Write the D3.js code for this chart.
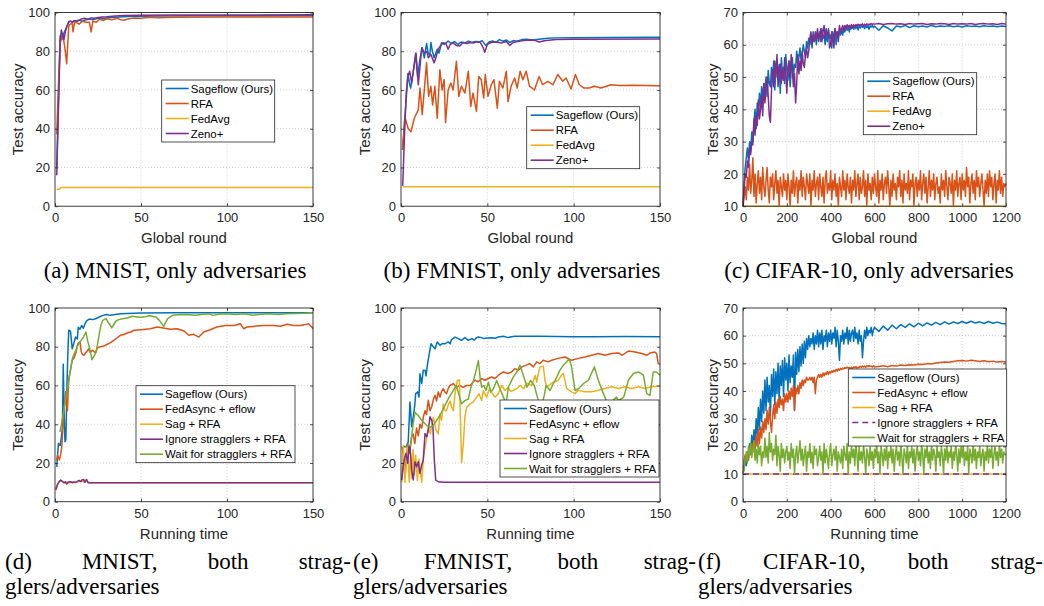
<!DOCTYPE html>
<html>
<head>
<meta charset="utf-8">
<script src="https://cdn.jsdelivr.net/npm/d3@7"></script>
<style>
  body { margin: 0; background: #fff; }
  svg { display: block; }
  .axis text { font-family: "Liberation Sans", Arial, sans-serif; font-size: 13px; fill: #262626; }
  .axis line { stroke: #262626; stroke-width: 0.8; }
  .axisLabel { font-family: "Liberation Sans", Arial, sans-serif; font-size: 15px; fill: #262626; }
  .legendText { font-family: "Liberation Sans", Arial, sans-serif; font-size: 11.4px; fill: #000; }
  .caption { font-family: "Liberation Serif", "Times New Roman", serif; font-size: 23px; fill: #000; }
</style>
</head>
<body>
<div id="chart"></div>
<script>
var svgWidth = 1044;
var svgHeight = 606;

var blue = "#0072BD", orange = "#D95319", yellow = "#EDB120", purple = "#7E2F8E", green = "#77AC30";

// ---- (a) MNIST, only adversaries : [round, accuracy]
var aSageflow = [[1,20],[2,55],[3,88],[4,86],[5,89],[6,91],[7,93],[8,95],[9,95.5],[10,95],[12,95.8],[14,96],[16,95.5],[18,96.3],[20,96.6],[22,96.2],[25,97],[28,96.8],[30,97.2],[35,97.5],[40,97.8],[45,98],[50,98.1],[60,98.2],[80,98.3],[100,98.3],[150,98.4]];
var aRfa = [[1,37],[2,62],[3,84],[4,88],[5,86],[6,80],[6.8,73.5],[7.5,85],[8,93],[9,94],[10,94.5],[10.5,90],[11.3,94.5],[12,95],[14,94],[16,95.5],[18,95],[20,95],[21,90],[22,95.5],[24,95],[26,96.5],[28,95.8],[30,96.8],[33,96.2],[36,97],[38,96.3],[40,96],[43,96.8],[46,97.2],[50,97],[55,97.5],[60,97.3],[70,97.6],[100,97.7],[150,97.7]];
var aFedAvg = [[1,8.8],[2.5,8.8],[3.5,9.7],[150,9.7]];
var aZeno = [[1,16],[2,50],[3,85],[3.7,91],[4.5,88],[5.2,86],[6,90],[7,93],[8,95.3],[9,95.5],[10,95],[11,95.8],[13,95.5],[15,96.5],[17,97],[19,96.5],[21,97.2],[23,97],[26,97.6],[30,97.8],[35,98.2],[40,98.4],[50,98.6],[70,98.7],[150,98.8]];

// ---- (b) FMNIST, only adversaries
var bSageflow = [[1,29],[2,43],[3,55],[4,68.5],[5,63],[5.6,61],[6.5,66],[7.5,72],[8.5,79],[9.6,67],[11,76],[12.3,81.8],[13.5,76.6],[14.8,84],[15.7,79],[16.7,78],[17.3,84.5],[18.2,80],[19.2,76.6],[21,81],[22,79],[23.5,84.4],[25,83.5],[27.3,85.3],[29,84],[31,85],[33,83.5],[35,84.8],[37,84.2],[39,85.2],[41,84.5],[43,85],[45,84.6],[47,85.5],[49,83],[51,84.8],[53,85.3],[55,84.6],[57,86],[59,85.2],[61,85.8],[63,84.5],[65,85.5],[67,85.2],[70,86],[73,86.2],[76,85.8],[80,86.2],[85,86.7],[90,86.9],[100,87],[120,87.1],[150,87.2]];
var bRfa = [[0.8,29],[2.3,46],[4.2,40],[5.8,38.5],[7.7,45.4],[10,49.7],[11,61],[12.3,47.3],[14.8,74],[16,56.7],[17.3,61.9],[18.3,52.3],[19.6,61.9],[21,45.4],[22.5,70.5],[23.8,60],[25,65.3],[25.8,43.2],[27.3,60],[28.8,63.6],[30.2,60],[32.1,74.8],[33.5,56.7],[35,62],[37,58.4],[39,69.7],[40.4,51.5],[41.7,58.4],[43.7,48.9],[45,67],[46.5,65.3],[47.9,55.8],[48.8,68],[50.4,56.7],[52.3,62.7],[53.8,65.3],[55.8,50.6],[57,64.5],[59,61],[61,69.7],[62,54],[63.8,62],[65.8,66.2],[67.3,61],[69,69.7],[70.6,65.3],[72.5,69.7],[74.4,62],[77.3,60],[80,67],[82,62.7],[85,64.5],[88,62.7],[90.8,68],[93.7,64.5],[95.6,66.2],[98.5,60.5],[101,68],[103.3,62.7],[106,61],[109,61],[112,61.9],[115.8,61],[121.5,62.7],[127,62.3],[135,62.5],[148.5,62.2],[150,62.2]];
var bFedAvg = [[1,10],[150,10]];
var bZeno = [[1,10.5],[2,36],[3,58],[4,67],[5,69.7],[6.2,63.6],[7,68.8],[8.7,79],[10,62.7],[11,72],[12,81.8],[13,80],[13.8,79],[15,80],[15.8,76.6],[17.3,78.3],[19.2,74],[20.3,77],[21.5,81],[23,83],[24.4,84.4],[26,84],[27.3,81],[28.5,83.5],[30,84.4],[32,83],[34,82.7],[36,84.5],[38,84],[40,84.5],[42,84.2],[44,85],[46,84.5],[47.5,82],[48.5,79.5],[50,83.5],[52,84.5],[55,84.8],[58,84.2],[61,85],[63,83],[65,84.5],[68,85.2],[71,85.5],[75,85.8],[78,85.5],[80,84.8],[83,85.4],[87,85.8],[90,86],[100,86.2],[150,86.3]];

// ---- (c) CIFAR-10, only adversaries
// early parts: one value every 5 rounds (0..595); late parts: every 20 rounds (600..1200)
var cSageflowEarly = [10,17,22,25,28,24,30,27,33,30,
  36,40,34,42,38,45,41,47,43,48,
  46,50,44,52,48,47,53,49,55,46,
  52,55,49,54,45,56,51,53,48,57,
  52,49,55,47,52,56,50,54,53,58,
  54,56,59,55,57,60,58,56,61,59,
  62,60,63,59,64,61,63,60,64,62,
  64,61,65,62,63,60,64,61,65,62,
  63,59,64,61,65,60,64,62,65,63,
  65,63,65.5,64,65.8,64.5,65.6,64,65.8,65,
  65.5,64.8,65.8,65,66,64.6,65.8,65.2,66,65.4,
  65.8,65,66,65.3,65.9,64.8,65.8,65.5,66,65.3];
var cSageflowLate = [65.8,64.5,65.9,65.2,64.3,65.8,65.5,66,65.3,65.9,65.6,65.8,65.5,66,65.6,65.8,65.7,65.9,65.6,65.8,65.5,65.9,65.7,65.8,65.6,65.9,65.7,65.8,65.6,65.8,65.7];
// RFA: every 5 rounds, 0..1200
var cRfa = [10,13,16,12,19,15,23,14,18,25,
  13,20,11,17,21,14,19,12,22,16,
  13,18,22,15,11,19,16,20,12,17,
  21,14,18,10,19,16,13,20,15,18,
  12,20,16,10,18,14,21,13,17,19,
  11,18,15,21,13,19,16,12,20,17,
  14,20,10,18,15,21,13,17,19,12,
  20,16,13,19,11,18,21,14,17,15,
  21,12,18,15,20,13,17,10,19,16,
  13,21,15,18,12,20,16,14,19,11,
  18,15,21,13,17,20,12,19,14,16,
  21,13,18,10,20,15,17,12,19,14,
  20,16,13,21,11,18,15,20,12,17,
  19,14,21,16,10,18,13,20,15,17,
  12,19,16,21,13,18,11,20,15,17,
  14,21,12,18,16,20,10,17,19,13,
  18,15,21,12,17,20,14,19,11,16,
  21,13,18,15,20,12,17,19,14,16,
  11,20,15,18,13,21,16,12,19,17,
  14,20,10,18,15,21,13,17,19,12,
  20,15,18,13,22,16,19,11,17,20,
  14,18,12,21,16,19,13,17,20,15,
  10,18,14,20,13,21,16,19,12,17,
  20,11,18,15,21,14,19,13,17,16,
  17];
var cFedAvg = [[0,10],[1200,10]];
var cZenoEarly = [10,15,20,19,24,22,28,26,30,29,
  37,32,38,35,43,37,40,44,38,48,
  42,47,50,44,38,36,46,52,47,55,
  50,57,47,53,54,48,52,49,56,51,
  45,53,55,50,57,52,47,51,42,48,
  57,51,55,52,58,54,53,57,59,56,
  58,62,64,60,63,61,64,62,65,61,
  63,65,61,64,66,62,65,63,64,59,
  60,64,62,59,65,63,64,61,66,64,
  65,66,64,66,65,66.2,65.5,66,64.8,66.3,
  65.3,66.2,65.5,66.3,65.8,66.4,65.9,66.3,66,66.5,
  65.8,66.4,66,66.5,66.1,66.4,66.2,66.6,66.3,66.5];
var cZenoLate = [66.4,66.6,66.3,66.5,66.6,66.4,66.5,66.3,66.6,66.4,66.5,66.6,66.3,66.5,66.4,66.6,66.5,66.3,66.6,66.4,66.5,66.4,66.6,66.3,66.5,66.6,66.4,66.5,66.3,66.6,66.4];

// ---- (d) MNIST, both stragglers/adversaries : [time, accuracy]
var dSageflow = [[1,18],[2,30],[3,29],[3.5,32],[4.3,38],[4.8,71],[5.3,45],[5.8,31],[6.3,32],[7,62],[7.6,80],[8,88.5],[9,88],[10,79],[11,82],[12,85],[13,84],[13.5,90],[14.5,89],[15.5,91],[16.5,89.5],[17.5,92],[18.5,93.5],[20,94.3],[22,94],[24,94.6],[26,95.5],[28,96.2],[30,96.6],[32,96.2],[35,96.6],[38,97],[42,97.2],[50,97.4],[70,97.5],[100,97.5],[150,97.5]];
var dFedAsync = [[1,21.5],[1.5,24],[2.5,21.5],[3.2,24],[3.9,28],[4.6,38],[5.2,47],[5.8,52],[6.2,56.7],[6.8,50],[7.2,47],[8,63.6],[9,68],[10,73],[11,74],[12,76.5],[13.3,81.6],[14.5,82.5],[15.3,77.3],[16,76],[17,75.6],[17.8,77],[18.4,77.3],[19.7,79],[20.5,77],[21.7,78.2],[23.6,76.8],[24.6,79.5],[26.5,80],[28,80.2],[30.4,81.3],[32,82],[34.2,83.3],[36,84.5],[38,85.9],[40,86.3],[42,87.1],[44,87.6],[46,88.5],[50,88.8],[55.5,89.3],[59.4,90.2],[63,89.7],[67,89],[71,89.3],[75,88.1],[77.8,85.9],[80.7,86.4],[83.6,85],[86.5,87.6],[90.3,88.8],[94,90.2],[99,91],[104,91],[107.7,91.9],[109.7,89.3],[111.6,90.2],[115.5,90.5],[121,91],[127,91],[131,90.6],[135,91.6],[139,91],[142.5,91],[145,91.3],[147.4,91.9],[149.3,90.2],[150,89.3]];
var dSag = [[0.5,7],[1.5,9],[2.5,10.5],[3.5,10.8],[4.5,10.2],[5.5,9.6],[6.5,10],[8,9.7],[10,10],[12,9.8],[14,10.5],[15.5,11],[16.5,10.2],[17.5,11.2],[18.5,10.8],[19.5,9.8],[150,9.8]];
var dIgnore = [[0.5,6],[1.5,9],[2.5,10.5],[3.3,11.2],[4.2,10.5],[5.2,9.8],[6,10.3],[6.8,9.1],[7.6,10.2],[9,10.3],[10,9.8],[11,10.2],[12.2,10.1],[14,11],[15,10.3],[15.8,11.4],[16.5,11.5],[17.4,10],[18.4,11.5],[19.2,9.8],[150,9.8]];
var dWait = [[2.9,36],[4.5,43.6],[6,52],[7.4,59],[9,68],[10.3,74.6],[12,78],[13.2,80.7],[15,83],[16.5,85],[18,87.6],[19,83],[20,79.8],[21.5,73.3],[22.9,75.5],[24,78],[24.8,81.6],[26,88],[26.7,91],[27.7,93.6],[29.7,94.5],[31,92.5],[33,89.8],[35.5,93.3],[37,94],[39.3,94.5],[42,94.8],[45,95.7],[48,95.4],[50,95.2],[53,95.6],[55,96],[58.7,95.3],[60.7,93.6],[63.2,90.5],[65.5,94.5],[68.4,96.2],[72,96.5],[76,96.7],[82,96.2],[86,96.8],[89.7,97],[91.7,96.2],[95,96.8],[99,97],[105,96.6],[110,97],[115,96.3],[120,96.8],[124.6,97],[130,96.7],[134,97],[140,97.2],[145,97.3],[150,97.6]];

// ---- (e) FMNIST, both stragglers/adversaries
var eSageflow = [[1,28],[2,28.5],[3,28.4],[4.2,31],[5.2,51.5],[6.2,38.7],[7.1,43.8],[8,50],[8.5,55.8],[9.7,56.7],[10.4,54],[11,66],[12,61],[12.9,67.9],[13.9,67.9],[14.5,65],[15.4,71.3],[16.2,75.6],[17.4,81.6],[18.7,79.9],[19.7,79],[21,82.5],[22.6,80.8],[23.9,81.6],[25.5,81.6],[27.4,82.5],[28.5,81.5],[29.3,83.7],[31.3,85],[33.2,84.2],[35,83.3],[37,84.7],[39,83.3],[41,84.2],[42.5,83.5],[43.8,84.7],[44.8,85],[46.7,84.7],[48,84.2],[50,84.5],[52.5,84.7],[54.5,84.4],[56.4,85],[59.3,85.4],[62,84.7],[64,85.2],[66,85.4],[70,85.4],[80,85.4],[90,85.3],[100,85.1],[110,85.2],[130,85.3],[150,85.2]];
var eFedAsync = [[0.8,28.4],[1.6,20],[2.3,12],[3,22],[4,30],[5,25],[6,33],[7,35],[8,30],[9,38],[10,34],[11,40],[12,38],[13,44],[13.9,47],[14.8,45],[15.8,52.4],[16.8,47],[17.8,49],[18.8,53],[19.7,55],[20.6,52],[21.6,56.7],[22.6,54],[23.5,57],[24.5,58.4],[25.5,56.5],[26.4,55.8],[27.4,58.5],[28.4,60],[30.3,61],[32,59],[34,60],[36,59],[38,60],[40,60],[42.8,62.7],[44.8,61.9],[46.7,63.6],[48.6,62.7],[50.6,63.6],[52.5,64.4],[54.4,63.6],[56.4,65.3],[59.3,67],[62,66.2],[64,67],[66,68.7],[68,67.9],[70,69.6],[72.6,70.5],[74.5,71.3],[76.6,69.6],[78.6,72.2],[80.5,71.3],[82.4,73],[85.3,72.2],[87.3,73],[91,74],[95,74.7],[98.8,73],[102.7,74],[106.6,74.7],[110.4,75.6],[114.3,76.5],[118,75.6],[122,76.5],[126,76.8],[128,75.6],[131.7,77.8],[135.6,77.3],[139.5,76.5],[142.5,75.6],[144.4,76.8],[147,77.3],[148,76.5],[149,71.3],[150,71]];
var eSag = [[0.5,10],[1.4,29],[2.3,10],[3.2,22],[3.7,28],[4.8,10],[5.5,25],[6.2,12],[7,27],[7.8,14],[8.5,24],[9.5,11],[10.5,22],[11.3,15],[12,10],[13,23],[14.9,33],[15.8,38.4],[17,35],[18.7,43.6],[20.3,37],[21.6,35],[22.5,45.3],[23.5,42],[24.5,50.5],[25.5,47],[26.4,47],[27.4,50],[28.4,52],[29.3,49],[30.3,47],[31.3,55.7],[32.6,62.6],[33.8,63],[34.5,40],[35.1,20.1],[36.1,29.8],[37,43.6],[38,48.8],[40,50.5],[41.9,51.4],[43.8,54],[45.2,55.7],[46.7,52.2],[47.7,57.4],[49.6,54],[51.2,58.3],[52.8,56],[54.4,54],[56.4,55.7],[58.3,60],[60.2,57.4],[62,59],[63.5,57],[65,57.4],[67,58.3],[69,60],[71,58.3],[72.8,61.2],[75.7,60],[77.7,65.2],[78.6,61.7],[79.5,66],[80.5,69.6],[82.4,70],[83.4,62.7],[84.4,59.3],[87,61],[91,62.7],[93,65.3],[94,66.2],[96,58.4],[98.8,56.7],[100.8,55.8],[102.7,57.5],[106.6,56.7],[110.4,56.7],[114.3,57.5],[118,58.4],[122,59.3],[126,58.4],[129.7,59.3],[133.6,58.4],[137.5,59.3],[141.3,58.4],[145,59.3],[150,59.6]];
var eIgnore = [[0.4,11.2],[1.2,18],[1.9,21.5],[2.9,25],[3.9,19.8],[4.6,28.4],[5.2,28.4],[6.2,16.3],[7.1,11.2],[8.1,20.6],[9.1,18],[10,20.6],[11,14.6],[12,18.9],[12.9,21.5],[13.9,35.2],[14.9,33.5],[15.8,36.9],[16.8,43.8],[17.8,42],[18.5,38.7],[19.3,21.5],[20.1,11.2],[21.6,10.3],[25,10],[150,10]];
var eWait = [[2.3,28],[4.2,29],[5.6,29],[7,40],[8.1,46.2],[10,44.5],[12,42],[14.9,39.3],[16.8,38.4],[18.7,39.3],[20.6,42],[22.5,44.5],[24.5,48],[26.4,51.4],[28.4,54.8],[30.3,57.4],[32,60],[34,54],[35,50.5],[37,52.2],[39,53],[40.5,59.1],[42,62.6],[43.5,67.8],[44.8,72.9],[45.8,64.3],[46.7,59.1],[48,60],[49.2,57.4],[50.6,61.7],[52,56.6],[53.5,58.3],[55.4,62.6],[57.3,58.3],[59.3,54],[60.8,50.5],[62.2,59.1],[65,64.3],[67,66.9],[68.9,70.4],[71.2,64.3],[73,59.1],[75,62.6],[77.2,60],[79,54],[81,48],[83,55],[84,60],[86.3,57.4],[88.2,60.9],[90.2,64.3],[92,67.8],[94,70.4],[97.5,73.8],[98.8,69.5],[100.8,57.4],[102.7,58.3],[105.6,60.9],[108.5,62.7],[112,69.6],[114.3,62.7],[117.2,55.8],[120,50],[124.8,54],[126,52.2],[129,54],[131.7,62.7],[134.6,66.2],[137.5,67],[140.4,65.3],[142.3,55.8],[144.2,54.9],[146.1,67],[148,67],[150,65.3]];

// ---- (f) CIFAR-10, both stragglers/adversaries
var fSageflowEarly = [10,12,15,13,18,16,21,18,24,20,
  26,21,30,24,34,26,37,29,40,32,
  44,33,45,36,42,31,46,38,48,35,
  47,39,50,36,49,42,51,38,52,44,
  50,40,53,43,49,45,53,33,54,46,
  55,47,56,49,57,50,58,52,59,55,
  60,56,59,57,61,55,60,57,62,56,
  61,57,62,55,60,58,62,56,61,58,
  62,57,61,59,63,56,62,58,51,60,
  58,62,57,61,59,63,57,62,58,61,
  62,58,63,59,61,57,62,58,60,52,
  58,62,59,63,60,62,61,63,60,62];
var fSageflowLate = [63,61.5,63.5,62,63.8,62.5,64,63,64.3,63.2,64.5,63.5,64.6,63.8,64.8,64,65,64.2,65,64.4,65.1,64.5,65.2,64.6,65,64.4,65.1,64.5,64.9,64.4,64.2];
var fFedAsyncEarly = [10,15,17,16,18,15,19,17,21,18,
  22,19,24,20,26,21,27,23,29,25,
  30,26,33,28,34,29,25,31,35,30,
  36,32,37,34,38,35,37,33,39,36,
  39,36,40,37,41,38,42,33,41,39,
  42,39,43,41,44,42,44,43,45,44,
  44,45,44,45,43,45,39,44,45,46,
  45,46,45,46.5,45.5,46.5,46,47,46,47,
  46.5,47.3,46.8,47.5,47,47.8,47.2,48,47.5,48.2,
  47.8,48.3,48,48.5,48.2,48.6,48.3,48.5,48.1,48.6,
  48.2,48.7,48.4,48.8,48.3,48.6,48.5,48.9,48.6,49,
  48.7,49,48.6,49.1,48.8,49.2,48.9,49,48.7,49.1];
var fFedAsyncLate = [48.7,48.9,49.1,48.8,49.2,49,49.4,49.2,49.5,49.4,49.7,49.6,49.9,49.8,50.1,50.3,50.5,50.4,50.7,50.9,51,50.8,51.1,50.9,50.7,50.9,50.6,50.8,50.5,50.7,50.5];
var fSag = [[0,10],[1200,10]];
var fIgnore = [[0,10],[1200,10]];
// Wait for stragglers: every 5 time units, 0..1200
var fWait = [10,12,15,18,14,20,17,21,16,19,
  22,15,19,14,21,17,20,13,18,16,
  23,16,20,14,25,18,21,15,19,17,
  24,13,20,17,11,21,16,19,14,18,
  20,15,18,12,21,16,19,10,17,20,
  14,18,22,15,19,13,17,20,11,18,
  16,21,14,18,12,20,17,19,13,16,
  20,15,18,10,21,14,19,16,12,18,
  21,13,17,19,15,20,11,18,16,14,
  19,12,20,17,15,21,10,18,14,20,
  16,19,13,21,17,11,20,15,18,14,
  21,16,10,19,17,13,20,15,18,12,
  19,16,21,14,18,10,20,17,13,19,
  15,21,12,18,16,20,14,19,11,17,
  20,15,18,13,21,16,10,19,17,14,
  21,12,18,16,20,14,19,11,17,20,
  15,18,13,21,17,10,19,16,20,14,
  18,12,21,15,19,17,11,20,16,18,
  13,20,17,10,19,15,21,14,18,16,
  20,12,18,15,21,17,11,19,14,20,
  16,21,13,18,15,20,10,19,17,14,
  21,15,19,12,18,16,20,13,17,19,
  11,18,15,21,14,19,16,20,12,17,
  20,15,18,13,21,16,19,14,18,17,
  17];

// tick labels
var ticks150 = [0, 50, 100, 150];
var ticks1200 = [0, 200, 400, 600, 800, 1000, 1200];
var ticks100 = [0, 20, 40, 60, 80, 100];
var ticks70 = [0, 10, 20, 30, 40, 50, 60, 70];
var ticks10to70 = [10, 20, 30, 40, 50, 60, 70];

var topCaptions = ["(a) MNIST, only adversaries", "(b) FMNIST, only adversaries", "(c) CIFAR-10, only adversaries"];
var bottomCaptions = [["(d)", "MNIST,", "both", "strag-"], ["(e)", "FMNIST,", "both", "strag-"], ["(f)", "CIFAR-10,", "both", "strag-"]];

var namesA = ["Sageflow (Ours)", "RFA", "FedAvg", "Zeno+"];
var namesB = ["Sageflow (Ours)", "FedAsync + eflow", "Sag + RFA", "Ignore stragglers + RFA", "Wait for stragglers + RFA"];

// turn evenly spaced values into [x, y] pairs
function stepped(vals, dx, x0) {
  return vals.map(function(v, i) { return [(x0 || 0) + i * dx, v]; });
}

var panels = [
  { left: 55, right: 313, top: 12.5, xDomain: [0, 150], yDomain: [0, 100], xTicks: ticks150, yTicks: ticks100,
    xLabel: "Global round", ylabelX: 22.7, legend: [161.7, 80, 113],
    series: [[aSageflow, blue], [aRfa, orange], [aFedAvg, yellow], [aZeno, purple]], names: namesA },
  { left: 401, right: 660, top: 12.5, xDomain: [0, 150], yDomain: [0, 100], xTicks: ticks150, yTicks: ticks100,
    xLabel: "Global round", ylabelX: 370, legend: [526.7, 106.7, 113],
    series: [[bSageflow, blue], [bRfa, orange], [bFedAvg, yellow], [bZeno, purple]], names: namesA },
  { left: 743, right: 1006, top: 12.5, xDomain: [0, 1200], yDomain: [10, 70], xTicks: ticks1200, yTicks: ticks10to70,
    xLabel: "Global round", ylabelX: 718, legend: [863.3, 72.7, 113.4],
    series: [[stepped(cSageflowEarly, 5).concat(stepped(cSageflowLate, 20, 600)), blue],
             [stepped(cRfa, 5), orange], [cFedAvg, yellow],
             [stepped(cZenoEarly, 5).concat(stepped(cZenoLate, 20, 600)), purple]], names: namesA },
  { left: 55, right: 313, top: 308, xDomain: [0, 150], yDomain: [0, 100], xTicks: ticks150, yTicks: ticks100,
    xLabel: "Running time", ylabelX: 22.7, legend: [136, 385.7, 159],
    series: [[dSageflow, blue], [dFedAsync, orange], [dSag, yellow], [dIgnore, purple], [dWait, green]], names: namesB },
  { left: 401, right: 660, top: 308, xDomain: [0, 150], yDomain: [0, 100], xTicks: ticks150, yTicks: ticks100,
    xLabel: "Running time", ylabelX: 370, legend: [500, 400, 159],
    series: [[eSageflow, blue], [eFedAsync, orange], [eSag, yellow], [eIgnore, purple], [eWait, green]], names: namesB },
  { left: 743, right: 1006, top: 308, xDomain: [0, 1200], yDomain: [0, 70], xTicks: ticks1200, yTicks: ticks70,
    xLabel: "Running time", ylabelX: 718, legend: [848.3, 369, 158.4],
    series: [[stepped(fSageflowEarly, 5).concat(stepped(fSageflowLate, 20, 600)), blue],
             [stepped(fFedAsyncEarly, 5).concat(stepped(fFedAsyncLate, 20, 600)), orange],
             [fSag, yellow], [fIgnore, purple, "6,4"], [stepped(fWait, 5), green]], names: namesB }
];

var svg = d3.select("#chart")
  .append("svg")
  .attr("width", svgWidth)
  .attr("height", svgHeight);

svg.append("rect").attr("width", svgWidth).attr("height", svgHeight).attr("fill", "#fff");

var plotHeight = 193.7;

panels.forEach(function(p, idx) {
  var width = p.right - p.left;
  var x = d3.scaleLinear().domain(p.xDomain).range([0, width]);
  var y = d3.scaleLinear().domain(p.yDomain).range([plotHeight, 0]);

  var chartGroup = svg.append("g")
    .attr("transform", `translate(${p.left}, ${p.top})`);

  // dotted grid
  chartGroup.append("g").selectAll("line")
    .data(p.xTicks.slice(1, -1)).enter().append("line")
    .attr("x1", d => x(d)).attr("x2", d => x(d))
    .attr("y1", 0).attr("y2", plotHeight)
    .attr("stroke", "#bdbdbd").attr("stroke-width", 0.7).attr("stroke-dasharray", "1,2");
  chartGroup.append("g").selectAll("line")
    .data(p.yTicks.slice(1, -1)).enter().append("line")
    .attr("x1", 0).attr("x2", width)
    .attr("y1", d => y(d)).attr("y2", d => y(d))
    .attr("stroke", "#bdbdbd").attr("stroke-width", 0.7).attr("stroke-dasharray", "1,2");

  // lines
  var clipId = "clip" + idx;
  chartGroup.append("clipPath").attr("id", clipId)
    .append("rect").attr("x", -1).attr("y", -1).attr("width", width + 2).attr("height", plotHeight + 2);

  var line = d3.line().x(d => x(d[0])).y(d => y(d[1]));

  chartGroup.append("g").attr("clip-path", `url(#${clipId})`)
    .selectAll("path").data(p.series).enter().append("path")
    .attr("d", d => line(d[0]))
    .attr("fill", "none")
    .attr("stroke", d => d[1])
    .attr("stroke-width", 1.5)
    .attr("stroke-linejoin", "round")
    .attr("stroke-dasharray", d => d[2] || null);

  // axes, ticks pointing inward (MATLAB style)
  var fmt = d3.format("d");
  var bottomAxis = d3.axisBottom(x).tickValues(p.xTicks).tickFormat(fmt).tickSizeInner(-3).tickSizeOuter(0).tickPadding(7);
  var leftAxis = d3.axisLeft(y).tickValues(p.yTicks).tickFormat(fmt).tickSizeInner(-3).tickSizeOuter(0).tickPadding(5);
  var topAxis = d3.axisTop(x).tickValues(p.xTicks).tickSizeInner(-3).tickSizeOuter(0).tickFormat("");
  var rightAxis = d3.axisRight(y).tickValues(p.yTicks).tickSizeInner(-3).tickSizeOuter(0).tickFormat("");

  chartGroup.append("g").attr("class", "axis").attr("transform", `translate(0, ${plotHeight})`).call(bottomAxis);
  chartGroup.append("g").attr("class", "axis").call(leftAxis);
  chartGroup.append("g").attr("class", "axis").call(topAxis);
  chartGroup.append("g").attr("class", "axis").attr("transform", `translate(${width}, 0)`).call(rightAxis);
  chartGroup.selectAll(".axis .domain").remove();
  chartGroup.selectAll(".axis text").attr("font-family", null).attr("font-size", null);

  chartGroup.append("rect")
    .attr("width", width).attr("height", plotHeight)
    .attr("fill", "none").attr("stroke", "#262626").attr("stroke-width", 0.9);

  // axis labels
  svg.append("text")
    .attr("class", "axisLabel")
    .attr("text-anchor", "middle")
    .attr("transform", `translate(${p.ylabelX}, ${p.top + plotHeight / 2}) rotate(-90)`)
    .text("Test accuracy");

  svg.append("text")
    .attr("class", "axisLabel")
    .attr("text-anchor", "middle")
    .attr("x", p.left + width / 2)
    .attr("y", p.top + plotHeight + 37)
    .text(p.xLabel);

  // legend
  var lg = svg.append("g").attr("transform", `translate(${p.legend[0]}, ${p.legend[1]})`);
  lg.append("rect")
    .attr("width", p.legend[2]).attr("height", 17 + (p.names.length - 1) * 15)
    .attr("fill", "#fff").attr("stroke", "#262626").attr("stroke-width", 0.8);
  var rows = lg.selectAll("g.row").data(p.series).enter().append("g")
    .attr("transform", (d, i) => `translate(0, ${8.5 + i * 15})`);
  rows.append("line")
    .attr("x1", 4).attr("x2", 27)
    .attr("stroke", d => d[1]).attr("stroke-width", 1.6)
    .attr("stroke-dasharray", d => d[2] || null);
  rows.append("text")
    .attr("class", "legendText")
    .attr("x", 29).attr("dy", "0.35em")
    .text((d, i) => p.names[i]);
});

// sub-figure captions
var captionCenters = [175, 522, 869];
topCaptions.forEach(function(c, i) {
  svg.append("text").attr("class", "caption")
    .attr("text-anchor", "middle")
    .attr("x", captionCenters[i]).attr("y", 277.5)
    .text(c);
});

// bottom captions are justified across each column, then wrap
var captionEdges = [[5, 351], [353, 696], [698, 1043]];
bottomCaptions.forEach(function(words, i) {
  var nodes = words.map(function(w) {
    return svg.append("text").attr("class", "caption").attr("y", 569).text(w);
  });
  var widths = nodes.map(n => n.node().getComputedTextLength());
  var gap = (captionEdges[i][1] - captionEdges[i][0] - d3.sum(widths)) / (words.length - 1);
  var xPos = captionEdges[i][0];
  nodes.forEach(function(n, j) {
    n.attr("x", xPos);
    xPos += widths[j] + gap;
  });
  svg.append("text").attr("class", "caption")
    .attr("x", captionEdges[i][0]).attr("y", 594)
    .text("glers/adversaries");
});
</script>
</body>
</html>
